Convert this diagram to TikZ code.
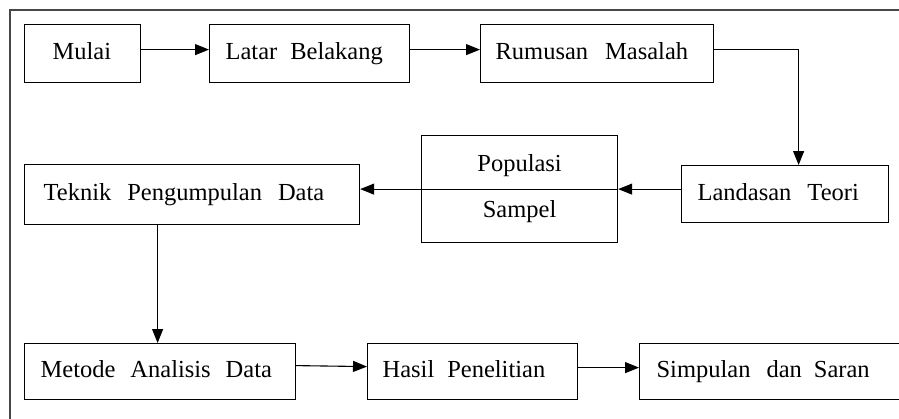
\documentclass[tikz,border=0pt]{standalone}
\usepackage{fontspec}
\setmainfont{Liberation Serif}
\usetikzlibrary{arrows.meta}
\newcommand{\wsp}[1]{\hspace{#1pt}}
\begin{document}
\begin{tikzpicture}[x=1pt,y=-1pt,
  box/.style={draw, line width=1.2pt, rectangle, anchor=north west, inner ysep=0pt,
    align=left, text height=18pt, text depth=6pt, font=\fontsize{24.5}{29}\selectfont},
  arr/.style={line width=1.1pt, -{Triangle[length=14pt,width=11pt]}},
  frameline/.style={line width=1.8pt, draw=black!72}]
\useasboundingbox (0,0) rectangle (899,418);
\clip (0,0) rectangle (899,418);
\fill[white] (0,0) rectangle (899,418);
% outer frame (top and left visible)
\draw[frameline] (10,420) -- (10,10) -- (905,10);
% boxes
\node[box, minimum width=116pt, minimum height=58pt, text width=60pt, inner xsep=28pt] (mulai) at (24,24) {Mulai};
\node[box, minimum width=200pt, minimum height=58pt, text width=168pt, inner xsep=16pt] (latar) at (209,24) {Latar\wsp{13}Belakang};
\node[box, minimum width=233pt, minimum height=58pt, text width=203pt, inner xsep=15pt] (rumusan) at (480,24) {Rumusan\wsp{17}Masalah};
\node[box, minimum width=207pt, minimum height=57pt, text width=175pt, inner xsep=16pt] (landasan) at (681,165) {Landasan\wsp{16}Teori};
\node[box, minimum width=196pt, minimum height=107pt, text width=196pt, inner xsep=0pt, align=center, text height=, text depth=] (populasi) at (421,135) {Populasi\\[17pt]Sampel};
\node[box, minimum width=335pt, minimum height=60pt, text width=297pt, inner xsep=19pt] (teknik) at (24,164) {Teknik\wsp{16}Pengumpulan\wsp{16}Data};
\node[box, minimum width=271pt, minimum height=56pt, text width=239pt, inner xsep=16pt] (metode) at (24,343) {Metode\wsp{15}Analisis\wsp{15}Data};
\node[box, minimum width=210pt, minimum height=56pt, text width=180pt, inner xsep=15pt] (hasil) at (367,343) {Hasil\wsp{13}Penelitian};
\node[box, minimum width=280pt, minimum height=56pt, text width=246pt, inner xsep=17pt] (simpulan) at (639,343) {Simpulan\wsp{16}dan\wsp{12}Saran};
% connectors
\draw[arr] ([yshift=4pt]mulai.east) -- ([yshift=4pt]mulai.east -| latar.west);
\draw[arr] ([yshift=4pt]latar.east) -- ([yshift=4pt]latar.east -| rumusan.west);
\draw[arr] ([yshift=4pt]rumusan.east) -| ([xshift=13.5pt]landasan.north);
\draw[arr] (populasi.east -| landasan.west) -- (populasi.east);
\draw[arr] (populasi.east) -- (populasi.east -| teknik.east);
\draw[arr] ([xshift=-2.5pt]metode.north |- teknik.south) -- ([xshift=-2.5pt]metode.north);
\draw[arr] ([yshift=6pt]metode.east) -- ([yshift=5pt]metode.east -| hasil.west);
\draw[arr] ([yshift=4pt]hasil.east) -- ([yshift=4pt]hasil.east -| simpulan.west);
\end{tikzpicture}
\end{document}
